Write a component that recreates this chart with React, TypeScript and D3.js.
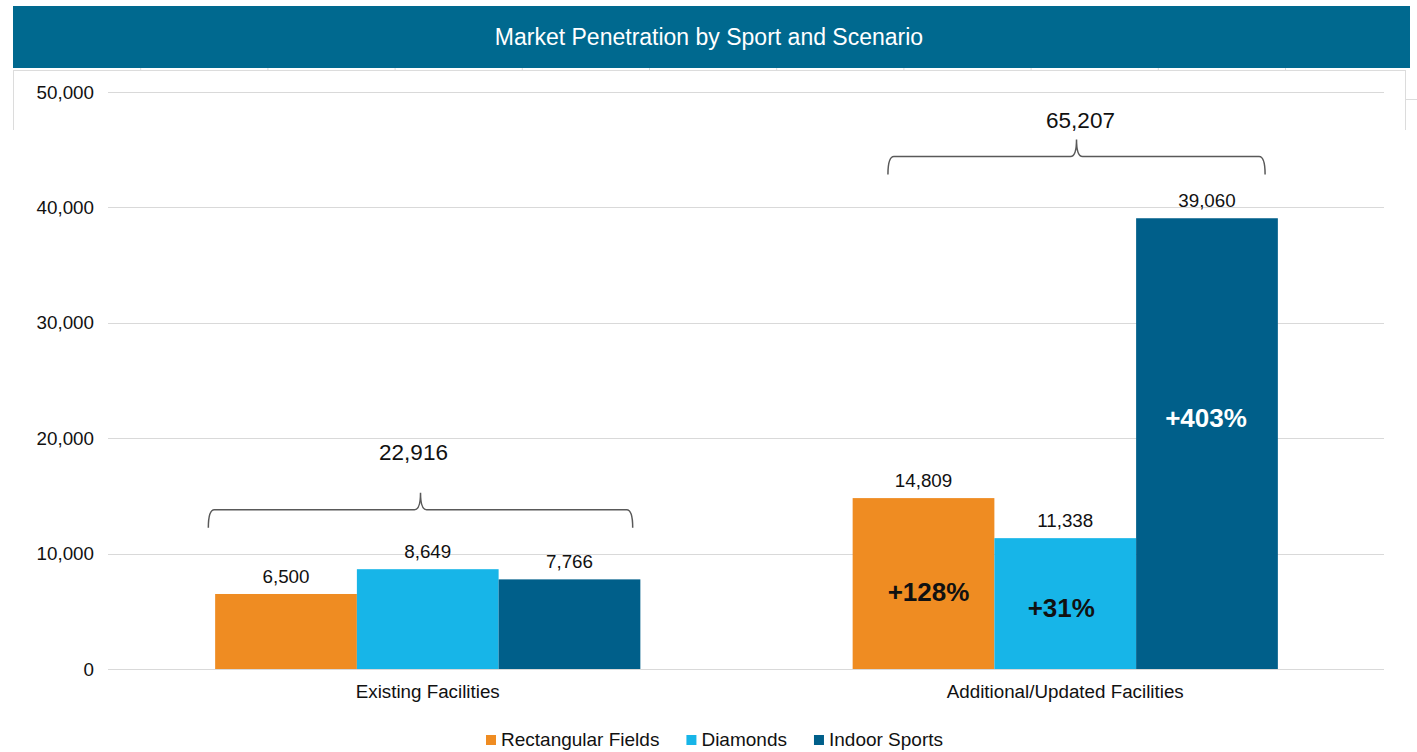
import React, { useEffect, useRef } from 'react';
import * as d3 from 'd3';

// chart data
const scenarios = ['Existing Facilities', 'Additional/Updated Facilities'];
const sports = ['Rectangular Fields', 'Diamonds', 'Indoor Sports'];
const existing = [6500, 8649, 7766];
const additional = [14809, 11338, 39060];
const totals = [22916, 65207];
const yTicks = [0, 10000, 20000, 30000, 40000, 50000];
const title = 'Market Penetration by Sport and Scenario';

const colors = ['#EF8C22', '#17B5E8', '#005F8A'];
const FONT = '"Liberation Sans", Arial, sans-serif';

const W = 1417;
const H = 752;

export default function App() {
  const ref = useRef<SVGSVGElement>(null);

  useEffect(() => {
    const svg = d3.select(ref.current);
    svg.selectAll('*').remove();

    const margin = { top: 92, right: 33, bottom: 83, left: 108 };
    const plotBottom = H - margin.bottom;

    // title bar
    svg.append('rect').attr('x', 13).attr('y', 6).attr('width', 1397).attr('height', 62).attr('fill', '#00698F');
    svg.append('text').attr('x', 709).attr('y', 45).attr('text-anchor', 'middle')
      .attr('font-family', FONT).attr('font-size', 23).attr('fill', '#fff').text(title);

    // faint frame bits under the title bar
    const frame = svg.append('g').attr('stroke', '#dcdcdc').attr('stroke-width', 1).attr('fill', 'none');
    frame.append('line').attr('x1', 13).attr('x2', 1405).attr('y1', 70.5).attr('y2', 70.5);
    d3.range(1, 11).forEach((k) => {
      const x = 13.5 + 127.2 * k;
      frame.append('line').attr('x1', x).attr('x2', x).attr('y1', 68).attr('y2', 71);
    });
    frame.append('line').attr('x1', 13.5).attr('x2', 13.5).attr('y1', 70).attr('y2', 130);
    frame.append('line').attr('x1', 1405.5).attr('x2', 1405.5).attr('y1', 70).attr('y2', 130);
    frame.append('line').attr('x1', 1406).attr('x2', 1417).attr('y1', 99.5).attr('y2', 99.5);

    const x0 = d3.scaleBand<string>().domain(scenarios)
      .range([margin.left + 1, W - margin.right]).paddingInner(0.333).paddingOuter(0.1665);
    const x1 = d3.scaleBand<string>().domain(sports).range([0, x0.bandwidth()]);
    const y = d3.scaleLinear().domain([0, 50000]).range([plotBottom, margin.top]);

    // gridlines
    const grid = svg.append('g');
    yTicks.forEach((t) => {
      grid.append('line').attr('x1', margin.left).attr('x2', W - margin.right)
        .attr('y1', Math.round(y(t)) + 0.5).attr('y2', Math.round(y(t)) + 0.5)
        .attr('stroke', '#d9d9d9').attr('stroke-width', 1.2);
    });

    // y axis labels
    const yAxis = d3.axisLeft(y).tickValues(yTicks).tickSize(0).tickPadding(14)
      .tickFormat((d) => d3.format(',')(d as number));
    const ya = svg.append('g').attr('transform', `translate(${margin.left},0)`).call(yAxis);
    ya.select('.domain').remove();
    ya.selectAll('text').attr('font-family', FONT).attr('font-size', 18.8).attr('fill', '#111');

    // x axis labels
    scenarios.forEach((s) => {
      svg.append('text').attr('x', x0(s)! + x0.bandwidth() / 2).attr('y', plotBottom + 29)
        .attr('text-anchor', 'middle').attr('font-family', FONT).attr('font-size', 18.8)
        .attr('fill', '#111').text(s);
    });

    const groups = [existing, additional];
    groups.forEach((vals, gi) => {
      const g = svg.append('g').attr('transform', `translate(${x0(scenarios[gi])},0)`);
      vals.forEach((v, i) => {
        g.append('rect').attr('x', x1(sports[i])!).attr('y', y(v))
          .attr('width', x1.bandwidth()).attr('height', plotBottom - y(v))
          .attr('fill', colors[i]);
        g.append('text').attr('x', x1(sports[i])! + x1.bandwidth() / 2).attr('y', y(v) - 11)
          .attr('text-anchor', 'middle').attr('font-family', FONT).attr('font-size', 18.8)
          .attr('fill', '#111').text(d3.format(',')(v));
      });
    });

    // percent change labels inside the additional bars
    const pctAt = [0.45, 0.467, 0.557];
    const pctFill = ['#111', '#111', '#fff'];
    const pctDx = [5, -4, -1];
    const g2 = svg.append('g').attr('transform', `translate(${x0(scenarios[1])},0)`);
    additional.forEach((v, i) => {
      const pct = Math.round((v / existing[i] - 1) * 100);
      g2.append('text').attr('x', x1(sports[i])! + x1.bandwidth() / 2 + pctDx[i])
        .attr('y', y(v * pctAt[i])).attr('dy', '0.35em')
        .attr('text-anchor', 'middle').attr('font-family', FONT).attr('font-size', 26)
        .attr('font-weight', 'bold').attr('fill', pctFill[i]).text(`+${pct}%`);
    });

    // braces with totals
    const braceLevel = [13800, 44400];
    const braceSpan = [[-0.016, 0.982], [0.083, 0.97]];
    const totalAt = [18800, 47600];
    const totalDx = [-7, 4];
    totals.forEach((t, gi) => {
      const bx = x0(scenarios[gi])!;
      const bw = x0.bandwidth();
      const a = bx + braceSpan[gi][0] * bw;
      const b = bx + braceSpan[gi][1] * bw;
      const m = (a + b) / 2;
      const yh = y(braceLevel[gi]);
      const ye = yh + 18;
      const yt = yh - 17;
      const r = 6;
      const p = d3.path();
      p.moveTo(a, ye);
      p.quadraticCurveTo(a, yh, a + r, yh);
      p.lineTo(m - r, yh);
      p.quadraticCurveTo(m, yh, m, yt);
      p.quadraticCurveTo(m, yh, m + r, yh);
      p.lineTo(b - r, yh);
      p.quadraticCurveTo(b, yh, b, ye);
      svg.append('path').attr('d', p.toString()).attr('fill', 'none')
        .attr('stroke', '#595959').attr('stroke-width', 1.5);
      svg.append('text').attr('x', m + totalDx[gi]).attr('y', y(totalAt[gi])).attr('dy', '0.35em')
        .attr('text-anchor', 'middle').attr('font-family', FONT).attr('font-size', 22.5)
        .attr('fill', '#111').text(d3.format(',')(t));
    });

    // legend
    const legend = svg.append('g').attr('transform', `translate(486, 735)`);
    let lx = 0;
    sports.forEach((s, i) => {
      const item = legend.append('g').attr('transform', `translate(${lx},0)`);
      item.append('rect').attr('width', 10).attr('height', 10).attr('fill', colors[i]);
      const txt = item.append('text').attr('x', 15).attr('y', 11).attr('font-family', FONT)
        .attr('font-size', 19).attr('fill', '#111').text(s);
      const tw = (txt.node() as SVGTextElement).getComputedTextLength();
      lx += 15 + tw + 27;
    });
  }, []);

  return (
    <svg ref={ref} width={W} height={H}
      style={{ position: 'absolute', left: 0, top: 0, background: '#fff' }} />
  );
}
